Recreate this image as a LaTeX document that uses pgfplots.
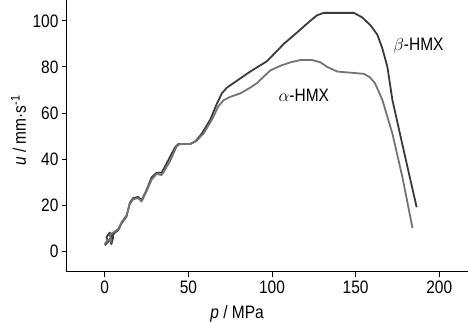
\documentclass[border=0pt]{standalone}
\usepackage{fontspec}
\setmainfont{Liberation Sans}[FakeStretch=0.86]
\usepackage{pgfplots}
\pgfplotsset{compat=1.18}
\definecolor{betacol}{HTML}{3A3A3A}
\definecolor{alphacol}{HTML}{747474}
\begin{document}
\begin{tikzpicture}
\begin{axis}[
  scale only axis,
  width=401pt, height=272pt,
  xmin=-22.6, xmax=217.2,
  ymin=-9.13, ymax=109.1,
  axis x line*=bottom, axis y line*=left,
  axis line style={-, line width=1pt, black},
  xtick={0,50,100,150,200},
  ytick={0,20,40,60,80,100},
  tick align=outside,
  major tick length=5pt,
  tick style={line width=0.9pt, black},
  /pgf/number format/assume math mode=true,
  tick label style={font=\fontsize{18}{20}\selectfont},
  label style={font=\fontsize{18}{20}\selectfont},
  xlabel={\textit{p} / MPa},
  ylabel={\textit{u} / mm\textperiodcentered s\textsuperscript{-1}},
  xlabel style={at={(axis description cs:0.424,0)}, anchor=base, yshift=-47pt},
  ylabel style={at={(axis description cs:-0.121,0.52)}, anchor=center},
  clip=false,
]
\addplot[betacol, line width=1.8pt, line join=round] coordinates {
(0,2.5) (2,4) (1,6) (3,8) (5,6) (4,3) (3,5) (6,8) (8,9) (10,12) (13,15)
(15,21) (17,23) (20,23.5) (22,22) (25,26.5) (28,32) (31,34) (34,34)
(38,39.5) (42,45) (44,46.5) (51,46.5) (54,47.5) (58,51) (63,57) (67,64)
(70,68.5) (73,71) (77,73) (82,75.5) (87,78) (97,82.5) (107,90) (115,95) (122,99.5) (127,102.5) (131,103.5)
(149,103.5) (154,101.5) (159,98) (163,94) (166,88) (169,80) (172,65.6) (176.5,51) (181,36.5) (186.5,19)
};
\addplot[alphacol, line width=1.8pt, line join=round] coordinates {
(0,3) (2,5) (4,4) (3,7) (5,8) (8,9.5) (10,12.5) (13,15.5) (15,20.5) (17,22.5)
(20,23) (22,21.5) (25,26) (28,31) (31,33.5) (34,33) (39,39) (43,45.5) (45,46.5)
(51,46.5) (55,48) (59,51) (64,57) (68,63) (71,65.5) (75,67) (81,68.5) (87,71) (91,73)
(99,78.5) (105,80.5) (111,82) (117,83) (124,83) (129,82) (133,80) (139,78) (147,77.5) (155,77)
(158.5,75.5) (161.5,73) (164,69) (166,65.6) (172,51) (178,32) (184,10)
};
\node[font=\fontsize{18}{20}\selectfont] at (axis cs:187.6,89) {$\beta$-HMX};
\node[font=\fontsize{18}{20}\selectfont] at (axis cs:119,67.6) {$\alpha$-HMX};
\end{axis}
\pgfresetboundingbox
\useasboundingbox (-67pt,-51pt) rectangle (401pt,272pt);
\end{tikzpicture}
\end{document}
